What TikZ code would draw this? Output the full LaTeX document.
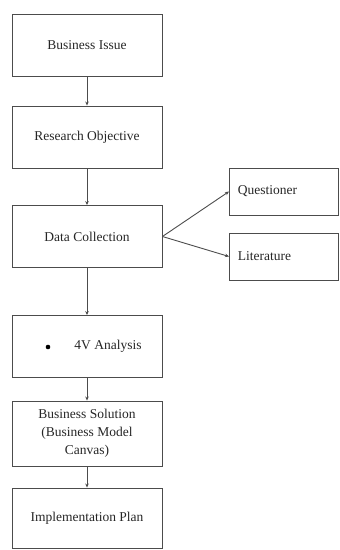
\documentclass[tikz,border=0pt]{standalone}
\usepackage{fontspec}
\setmainfont{Liberation Serif}
\usetikzlibrary{arrows.meta}
\begin{document}
\begin{tikzpicture}[x=1pt,y=-1pt,
  mainbox/.style={draw=black!70,line width=0.9pt,minimum width=150pt,minimum height=62pt,inner sep=0pt,align=center,font=\fontsize{13.5}{18}\selectfont,text=black!85},
  sidebox/.style={draw=black!70,line width=0.9pt,minimum width=109pt,minimum height=47pt,inner sep=0pt,font=\fontsize{13.5}{18}\selectfont,text=black!85},
  conn/.style={draw=black!70,line width=0.9pt,-{Stealth[length=4pt,width=3.5pt]}}]
\useasboundingbox (0,0) rectangle (340,550);
\node[mainbox] (b1) at (87,45) {Business Issue};
\node[mainbox] (b2) at (87,137) {Research Objective};
\node[mainbox] (b3) at (87,236.5) {Data Collection};
\node[mainbox] (b4) at (87,346.5) {};
\node[font=\fontsize{13.5}{18}\selectfont,text=black!85] (b4t) at (108,346.5) {4V Analysis};
\fill[black] (48,347) circle (2.3pt);
\node[mainbox,minimum height=65pt] (b5) at (87,433.5) {Business Solution\\(Business Model\\Canvas)};
\node[mainbox,minimum height=60pt] (b6) at (87,518) {Implementation Plan};
\node[sidebox,anchor=west,text width=100pt,align=left,inner sep=0pt] (q) at (229,191.5) {\hspace{4pt}Questioner};
\node[sidebox,anchor=west,text width=100pt,align=left,inner sep=0pt] (l) at (229,256.5) {\hspace{4pt}Literature};
\draw[conn] (b1) -- (b2);
\draw[conn] (b2) -- (b3);
\draw[conn] (b3) -- (b4);
\draw[conn] (b4) -- (b5);
\draw[conn] (b5) -- (b6);
\draw[conn] (b3.east) -- (q.west);
\draw[conn] (b3.east) -- (l.west);
\end{tikzpicture}
\end{document}
